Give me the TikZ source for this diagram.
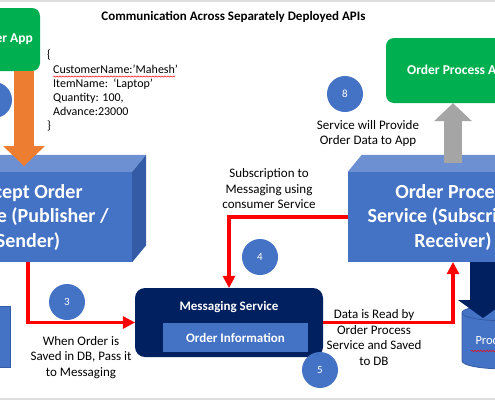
\documentclass[tikz,border=0pt]{standalone}
\usepackage{fontspec}
\setmainfont{Carlito}
\usetikzlibrary{shapes.geometric,arrows.meta,decorations.pathmorphing}
\definecolor{boxblue}{RGB}{68,114,196}
\definecolor{boxtop}{RGB}{108,144,210}
\definecolor{boxside}{RGB}{52,92,166}
\definecolor{appgreen}{RGB}{0,176,80}
\definecolor{msgnavy}{RGB}{0,32,96}
\definecolor{feedorange}{RGB}{237,125,49}
\definecolor{readgray}{RGB}{165,165,165}

\begin{document}
\begin{tikzpicture}[x=1pt,y=-1pt,
    service/.style={fill=boxblue,text=white,align=center,inner sep=0pt,minimum height=90pt,
      font=\fontsize{20}{24.5}\selectfont\bfseries},
    app/.style={fill=appgreen,rounded corners=8pt,text=white,
      font=\fontsize{13.5}{16}\selectfont\bfseries},
    badge/.style={circle,fill=boxblue,text=white,minimum size=36pt,inner sep=0pt,
      font=\fontsize{11}{13}\selectfont},
    note/.style={align=center,font=\fontsize{13}{15.5}\selectfont},
    db/.style={cylinder,shape border rotate=90,aspect=0.3,draw=boxside,line width=0.8pt,
      fill=boxblue,text=white,inner sep=0pt,font=\fontsize{12.5}{14}\selectfont},
    flow/.style={red,line width=3.5pt,-{Triangle[length=12pt,width=13pt,line width=0pt]}},
    spell/.style={red,line width=0.5pt,decorate,decoration={snake,amplitude=0.6pt,segment length=3pt}}]
    \useasboundingbox (0,0) rectangle (495,400);
    \clip (0,0) rectangle (495,400);
    \fill[white] (0,0) rectangle (495,400);
    \draw[gray!25,line width=1.5pt] (0,0.75) -- (495,0.75) (0,399) -- (495,399);

    \node[font=\fontsize{13}{15}\selectfont\bfseries] (title) at (233.5,17)
      {Communication Across Separately Deployed APIs};

    \node[app,minimum width=94pt,minimum height=63pt] (custapp) at (-7,39.5) {Customer App};
    \node[app,minimum width=146pt,minimum height=65pt] (procapp) at (459,70.5) {Order Process App};

    \node[align=left,anchor=north west,inner sep=0pt,font=\fontsize{12}{14.2}\selectfont] (payload) at (47,50)
      {\{\\ \hspace*{6pt}CustomerName:’Mahesh’\\ \hspace*{6pt}ItemName:\ \ ‘Laptop’\\
       \hspace*{6pt}Quantity: 100,\\ \hspace*{6pt}Advance:23000\\ \}};
    \draw[spell] (53,76.5) -- (175,76.5);

    \node[service,minimum width=208pt] (accept) at (28,217) {Accept Order\\Service (Publisher /\\Sender)};
    \node[service,minimum width=210pt] (proc) at (453,217) {Order Process\\Service (Subscriber /\\Receiver)};
    \foreach \b in {accept,proc} {
      \fill[boxtop] (\b.north west) -- ++(14,-17) -- ([shift={(14,-17)}]\b.north east) -- (\b.north east) -- cycle;
      \fill[boxside] (\b.north east) -- ++(14,-17) -- ([shift={(14,-17)}]\b.south east) -- (\b.south east) -- cycle;
    }

    \node[fill=msgnavy,rounded corners=10pt,minimum width=188pt,minimum height=69pt] (msg) at (229,322.5) {};
    \node[text=white,font=\fontsize{13}{15}\selectfont\bfseries] (msgtitle) at (229,307) {Messaging Service};
    \node[fill=boxblue,text=white,minimum width=145pt,minimum height=29pt,
      font=\fontsize{13}{15}\selectfont\bfseries] (orderinfo) at (235.5,337.5) {Order Information};

    \node[db,minimum width=80pt,minimum height=61pt] (acceptdb) at (-30,337.5) {};
    \node[db,minimum width=80pt,minimum height=64pt] (procdb) at (502,341) {ProcessDB};
    \draw[spell] ([xshift=-31pt,yshift=-10pt]procdb.center) -- ([xshift=31pt,yshift=-10pt]procdb.center);

    \coordinate (feedtip) at (24,166);
    \coordinate (storetip) at (483,318);
    \draw[feedorange,line width=20pt,-{Triangle[length=20pt,width=42pt,line width=0pt]}]
      (custapp.south -| feedtip) -- (feedtip);
    \draw[readgray,line width=18pt,-{Triangle[length=18pt,width=38pt,line width=0pt]}]
      ([yshift=9pt]proc.north) -- (procapp.south -| proc.north);
    \draw[msgnavy,line width=26pt,-{Triangle[length=18pt,width=50pt,line width=0pt]}]
      (proc.south -| storetip) -- (storetip);

    \draw[flow] (accept.south) |- (msg.west);
    \draw[flow] (proc.west) -| (msg.north);
    \draw[flow] (msg.east) -| (proc.south);

    \node[badge] (b1) at (-6,100) {};
    \node[badge] (b3) at (67,302) {3};
    \node[badge] (b4) at (260,257) {4};
    \node[badge] (b5) at (320,370) {5};
    \node[badge] (b8) at (345,94) {8};

    \node[note] (n3) at (81,357.5) {When Order is\\Saved in DB, Pass it\\to Messaging};
    \node[note] (n4) at (269,189) {Subscription to\\Messaging using\\consumer Service};
    \node[note] (n5) at (374,337.5) {Data is Read by\\Order Process\\Service and Saved\\to DB};
    \node[note] (n8) at (368,133.5) {Service will Provide\\Order Data to App};
\end{tikzpicture}
\end{document}
